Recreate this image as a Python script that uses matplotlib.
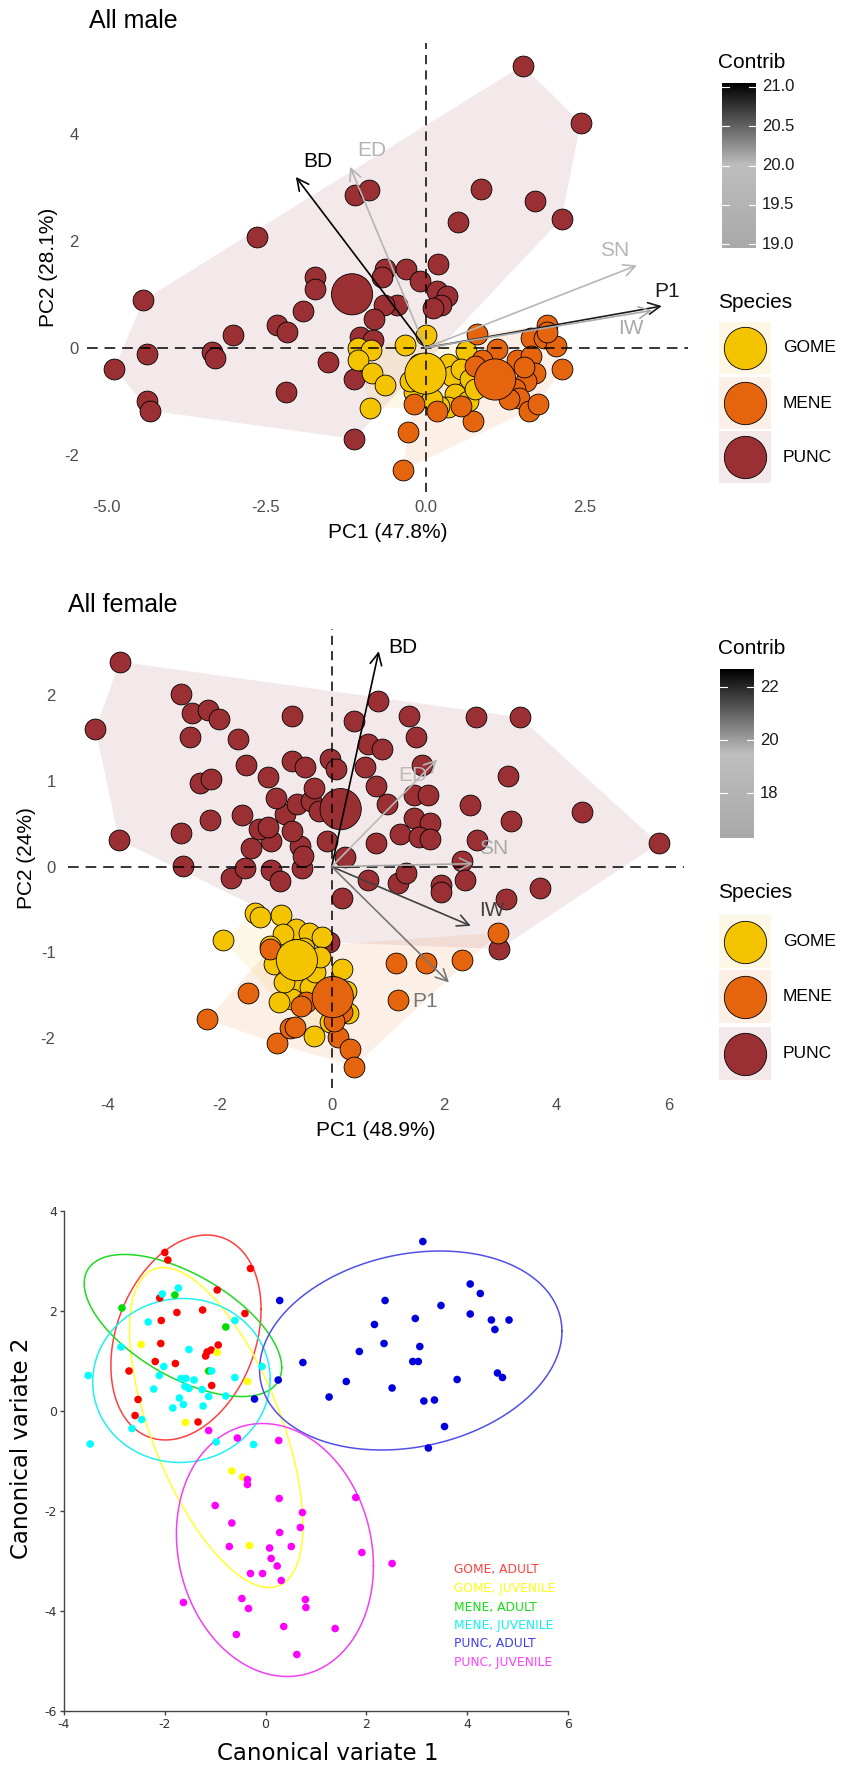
import numpy as np
import matplotlib
matplotlib.use("Agg")
import matplotlib.pyplot as plt
from matplotlib.colors import LinearSegmentedColormap, Normalize
from matplotlib.patches import Polygon, Rectangle

plt.rcParams['font.family'] = ['Liberation Sans', 'DejaVu Sans']

# ---------------- data ----------------
species = ["GOME", "MENE", "PUNC"]
species_colors = ["#F5C400", "#E5640E", "#9A3033"]

# All male PCA scores
male_punc_x = [1.52, 2.43, -2.64, -1.10, -0.88, 0.87, 1.71, 2.13, 0.51, -4.42, -1.73, -1.73, -0.64, -0.68, -0.30,
               0.20, -0.08, 0.18, 0.34, 0.24, 0.12, -0.44, -0.65, -1.92, -0.81, -2.32, -2.17, -3.02, -3.34, -3.29,
               -4.36, -4.87, -4.36, -4.32, -2.19, -1.52, -1.03, -0.82, -1.12, -1.12]
male_punc_y = [5.27, 4.20, 2.07, 2.85, 2.94, 2.96, 2.75, 2.41, 2.35, 0.89, 1.33, 1.09, 1.48, 1.32, 1.48,
               1.57, 1.24, 1.06, 0.97, 0.80, 0.74, 0.80, 0.80, 0.69, 0.53, 0.42, 0.30, 0.24, -0.08, -0.19,
               -0.11, -0.39, -0.99, -1.17, -0.83, -0.27, 0.20, 0.14, -0.58, -1.70]
male_gome_x = [0.00, -0.32, -1.05, -0.86, -1.05, -0.84, -0.63, -0.87, 0.63, 0.35, 0.42, 0.56, 0.70, 0.46, 0.67,
               0.35, 0.21, -0.07, -0.18, -0.25, 0.77, 0.10, -0.10]
male_gome_y = [0.24, 0.05, -0.01, -0.04, -0.22, -0.47, -0.69, -1.12, -0.05, -0.31, -0.52, -0.40, -0.59, -0.86, -0.99,
               -1.11, -1.08, -0.77, -0.83, -0.62, -0.77, -0.95, -0.30]
male_mene_x = [0.81, 1.12, 1.90, 1.65, 1.86, 2.04, 2.14, 1.44, 1.65, 1.72, 1.58, 1.40, 1.47, 1.30, 1.62, 1.76,
               0.74, 0.56, 0.18, -0.18, -0.28, -0.35, 0.88, 0.77, 1.90, 1.55]
male_mene_y = [0.25, -0.03, 0.43, 0.19, 0.19, 0.03, -0.40, -0.22, -0.15, -0.46, -0.62, -0.77, -0.93, -0.96, -1.17, -1.05,
               -1.36, -1.08, -1.17, -1.05, -1.57, -2.28, -0.22, -0.34, 0.30, -0.35]
male_centroid_x = [0.00, 1.09, -1.15]
male_centroid_y = [-0.48, -0.59, 1.00]
male_vars = ["BD", "ED", "SN", "P1", "IW"]
male_var_x = [-2.03, -1.18, 3.31, 3.70, 3.55]
male_var_y = [3.19, 3.38, 1.54, 0.78, 0.70]
male_contrib = [21.05, 19.5, 19.6, 20.9, 18.95]
male_ticks_x = [-5.0, -2.5, 0.0, 2.5]
male_ticklabels_x = ["-5.0", "-2.5", "0.0", "2.5"]
male_ticks_y = [-2, 0, 2, 4]
male_ticklabels_y = ["-2", "0", "2", "4"]
male_cb_ticks = [19.0, 19.5, 20.0, 20.5, 21.0]
male_cb_labels = ["19.0", "19.5", "20.0", "20.5", "21.0"]

# All female PCA scores
fem_punc_x = [-3.78, -4.21, -3.79, -2.68, -2.49, -2.20, -2.00, -2.53, -1.67, -0.70,
              -1.52, -2.34, -2.15, -2.17, -2.68, -2.65, -1.79, -1.55, -1.09, -0.92,
              -0.53, -0.56, -0.51, -1.43, -1.09, -1.30, -1.14, -0.83, -0.70, -0.61,
              -0.37, -0.22, -0.08, -1.14, -0.70, -0.48, -0.32, -0.03, 0.07, 0.60,
              0.79, 0.40, 0.82, 0.65, 0.89, 1.37, 1.51, 1.61, 1.46, 1.71,
              1.46, 1.75, 1.22, 1.56, 1.75, 0.98, 0.79, 0.65, 1.18, 1.32,
              1.95, 1.95, 2.33, 2.38, 2.46, 2.57, 3.36, 3.15, 3.20, 2.59,
              3.71, 3.10, 4.46, 5.83, 0.19, 0.24, 2.99, -1.00, -1.60, -0.05]
fem_punc_y = [2.39, 1.60, 0.31, 2.01, 1.79, 1.83, 1.72, 1.51, 1.49, 1.76,
              1.18, 0.98, 1.02, 0.54, 0.39, 0.01, -0.13, -0.01, -0.04, -0.17,
              -0.01, 0.24, 0.12, 0.22, 0.30, 0.44, 0.46, 0.61, 0.42, 0.73,
              0.77, 0.65, 0.30, 1.04, 1.23, 1.16, 0.92, 1.25, 1.14, 1.16,
              0.94, 1.70, 1.93, 1.43, 1.37, 1.76, 1.51, 1.19, 0.84, 0.84,
              0.57, 0.51, 0.38, 0.34, 0.32, 0.73, 0.28, -0.15, -0.19, -0.07,
              -0.21, -0.30, 0.07, -0.15, 0.72, 1.74, 1.74, 1.06, 0.53, 0.31,
              -0.25, -0.38, 0.64, 0.27, -0.36, 0.11, -0.96, 0.80, 0.60, -0.88]
fem_gome_x = [-1.93, -1.37, -1.27, -0.90, -0.64, -0.40, -0.18, -0.86, -1.10, -1.02, -0.78, -0.62,
              -0.38, -0.30, 0.18, 0.29, -0.03, -0.31, -0.70, -0.94, -0.50, -0.20, 0.25, -0.85]
fem_gome_y = [-0.85, -0.54, -0.59, -0.56, -0.73, -0.77, -0.82, -0.79, -0.92, -1.13, -1.27, -1.42,
              -1.40, -1.23, -1.19, -1.70, -1.81, -1.97, -1.54, -1.58, -0.95, -1.05, -1.45, -1.35]
fem_mene_x = [2.97, 1.14, 1.69, 2.32, 1.18, -1.50, -2.22, -0.98, -0.74, -0.66, 0.11, 0.32, 0.40,
              -1.10, -0.46, 0.18, -0.55, 0.05]
fem_mene_y = [-0.77, -1.12, -1.12, -1.09, -1.55, -1.47, -1.78, -2.06, -1.88, -1.87, -1.98, -2.13, -2.33,
              -0.96, -1.58, -1.69, -1.62, -1.80]
fem_centroid_x = [-0.62, 0.02, 0.16]
fem_centroid_y = [-1.09, -1.52, 0.67]
fem_vars = ["BD", "ED", "SN", "IW", "P1"]
fem_var_x = [0.84, 1.88, 2.52, 2.48, 2.09]
fem_var_y = [2.51, 1.25, 0.035, -0.69, -1.35]
fem_contrib = [22.7, 18.7, 16.3, 21.6, 20.7]
fem_ticks_x = [-4, -2, 0, 2, 4, 6]
fem_ticklabels_x = ["-4", "-2", "0", "2", "4", "6"]
fem_ticks_y = [-2, -1, 0, 1, 2]
fem_ticklabels_y = ["-2", "-1", "0", "1", "2"]
fem_cb_ticks = [18, 20, 22]
fem_cb_labels = ["18", "20", "22"]

# Canonical variate analysis
cva_groups = ["GOME, ADULT", "GOME, JUVENILE", "MENE, ADULT", "MENE, JUVENILE", "PUNC, ADULT", "PUNC, JUVENILE"]
cva_point_colors = ["#FF0000", "#FFFF00", "#00DD00", "#00FFFF", "#0000DD", "#FF00FF"]
cva_line_colors = ["#FF4040", "#FFFF30", "#20D820", "#20F0F0", "#5050E8", "#F040F0"]
cva_text_colors = ["#FF4040", "#FFFF10", "#10E010", "#10F0F0", "#4040E8", "#FF40FF"]
gome_adult_x = [-2.00, -1.94, -0.30, -0.96, -2.10, -1.25, -1.76, -0.41, -2.07, -2.08, -0.94, -1.08, -1.16, -1.19,
                -2.19, -1.79, -2.71, -1.07, -2.53, -2.59, -1.34]
gome_adult_y = [3.17, 3.02, 2.85, 2.42, 2.26, 2.02, 1.97, 1.95, 1.81, 1.35, 1.32, 1.22, 1.18, 1.10,
                0.99, 0.95, 0.80, 0.51, 0.23, -0.09, -0.22]
gome_juv_x = [-2.47, -0.96, -0.36, -1.59, -0.67, -0.46, -0.32]
gome_juv_y = [1.33, 1.17, 0.59, -0.23, -1.20, -1.32, -2.69]
mene_adult_x = [-2.85, -1.80, -0.79, -1.13]
mene_adult_y = [2.06, 2.32, 1.68, 0.80]
mene_juv_x = [-1.73, -2.05, -2.33, -0.61, -2.87, -1.52, -2.02, -0.07, -1.07, -3.52, -2.11, -0.61, -1.68, -1.58, -1.42,
              -1.60, -1.52, -1.26, -2.22, -1.13, -0.79, -1.71, -1.63, -1.84, -1.24, -2.46, -2.65, -3.48, -0.98, -0.24]
mene_juv_y = [2.46, 2.34, 1.78, 1.81, 1.28, 1.23, 0.89, 0.89, 0.80, 0.71, 0.71, 0.67, 0.65, 0.65, 0.62,
              0.49, 0.45, 0.43, 0.44, 0.29, 0.30, 0.26, 0.13, 0.06, 0.10, -0.17, -0.35, -0.66, -0.62, -0.67]
punc_adult_x = [3.12, 4.06, 4.26, 0.28, 2.37, 3.48, 4.06, 2.97, 4.48, 4.83, 2.16, 4.55, 2.35, 3.06, 1.86,
                0.74, 2.92, 3.03, 0.25, 1.60, 3.80, 4.60, 4.70, 2.51, 1.26, -0.22, 3.14, 3.35, 3.55, 3.23]
punc_adult_y = [3.39, 2.54, 2.35, 2.21, 2.21, 2.11, 1.94, 1.85, 1.82, 1.82, 1.73, 1.63, 1.35, 1.29, 1.19,
                0.97, 0.99, 0.99, 0.62, 0.59, 0.63, 0.76, 0.67, 0.46, 0.28, 0.24, 0.20, 0.22, -0.31, -0.74]
punc_juv_x = [-1.13, -0.56, 0.26, -0.36, -0.36, 0.27, -1.00, 1.79, 0.73, -0.67, 0.69, 0.28, -0.72, 0.08, 0.51, 1.91,
              0.11, 2.51, 0.23, -0.30, -0.06, 0.31, -1.63, -0.47, 0.79, -0.34, 0.80, 0.36, 1.38, -0.58, 0.62]
punc_juv_y = [-0.39, -0.54, -0.59, -1.37, -1.47, -1.75, -1.89, -1.73, -2.03, -2.24, -2.33, -2.43, -2.71, -2.74, -2.71,
              -2.83, -2.95, -3.05, -3.10, -3.25, -3.25, -3.39, -3.83, -3.75, -3.77, -3.95, -3.93, -4.31, -4.35, -4.47, -4.87]
# ellipse centre and covariance-like shape (sxx, syy, sxy)
ell_cx = [-1.58, -0.98, -1.64, -1.67, 2.88, 0.185]
ell_cy = [1.47, -0.33, 1.71, 0.61, 1.21, -2.78]
ell_sxx = [2.22, 2.96, 3.84, 3.10, 9.00, 3.82]
ell_syy = [4.20, 10.24, 2.02, 2.69, 3.96, 6.40]
ell_sxy = [0.84, -3.36, -1.65, 0.05, 1.15, -0.62]
cva_ticks_x = [-4, -2, 0, 2, 4, 6]
cva_ticks_y = [-6, -4, -2, 0, 2, 4]

# ---------------- figure ----------------
W, H = 843, 1775
fig = plt.figure(figsize=(W / 100, H / 100), dpi=100)


def rect_px(x0, y0, x1, y1):
    return [x0 / W, 1 - y1 / H, (x1 - x0) / W, (y1 - y0) / H]


def convex_hull(xs, ys):
    pts = sorted(set(zip(xs, ys)))
    if len(pts) < 3:
        return pts

    def cross(o, a, b):
        return (a[0] - o[0]) * (b[1] - o[1]) - (a[1] - o[1]) * (b[0] - o[0])
    lower, upper = [], []
    for p in pts:
        while len(lower) >= 2 and cross(lower[-2], lower[-1], p) <= 0:
            lower.pop()
        lower.append(p)
    for p in reversed(pts):
        while len(upper) >= 2 and cross(upper[-2], upper[-1], p) <= 0:
            upper.pop()
        upper.append(p)
    return lower[:-1] + upper[:-1]


contrib_cmap = LinearSegmentedColormap.from_list("contrib", ["#A9A9A9", "#BEBEBE", "#000000"])
TICK_GREY = "#4D4D4D"


def pca_panel(rect, xlim, ylim, groups, cx, cy, vars_, vx, vy, contrib, lab_off,
              xt, xtl, yt, ytl, xpad, ypad):
    ax = fig.add_axes(rect)
    ax.set_xlim(*xlim)
    ax.set_ylim(*ylim)
    ax.patch.set_alpha(0)
    for sp in ax.spines.values():
        sp.set_visible(False)
    for (gx, gy), col in zip(groups, species_colors):
        hull = convex_hull(gx, gy)
        ax.add_patch(Polygon(hull, closed=True, facecolor=col, alpha=0.1, edgecolor="none", zorder=1))
    for i in [2, 0, 1]:
        gx, gy = groups[i]
        ax.scatter(gx, gy, s=225, c=species_colors[i], edgecolors="black", linewidths=0.6, zorder=3)
    ax.scatter(cx, cy, s=880, c=species_colors, edgecolors="black", linewidths=0.6, zorder=4)
    ax.axhline(0, color="black", lw=1.1, ls=(0, (7, 4.5)), zorder=5)
    ax.axvline(0, color="black", lw=1.1, ls=(0, (6, 4)), zorder=5)
    norm = Normalize(min(contrib), max(contrib))
    for name, x, y, c, (dx, dy) in zip(vars_, vx, vy, contrib, lab_off):
        col = contrib_cmap(norm(c))
        ax.annotate("", xy=(x, y), xytext=(0, 0),
                    arrowprops=dict(arrowstyle="->,head_length=0.6,head_width=0.3", color=col, lw=1.2,
                                    shrinkA=0, shrinkB=0, mutation_scale=14), zorder=6)
        ax.text(x + dx, y + dy, name, color=col, fontsize=15, ha="center", va="center", zorder=7)
    ax.set_xticks(xt)
    ax.set_xticklabels(xtl)
    ax.set_yticks(yt)
    ax.set_yticklabels(ytl)
    ax.tick_params(axis="x", length=0, pad=xpad, labelsize=12, labelcolor=TICK_GREY)
    ax.tick_params(axis="y", length=0, pad=ypad, labelsize=12, labelcolor=TICK_GREY)
    return ax, norm


# ---- panel 1: All male
male_groups = [(male_gome_x, male_gome_y), (male_mene_x, male_mene_y), (male_punc_x, male_punc_y)]
male_off = [(0.34, 0.28), (0.34, 0.30), (-0.35, 0.27), (0.08, 0.28), (-0.34, -0.34)]
ax1, norm1 = pca_panel(rect_px(87, 43, 688, 492), (-5.30, 4.11), (-2.69, 5.69), male_groups,
                       male_centroid_x, male_centroid_y, male_vars, male_var_x, male_var_y, male_contrib,
                       male_off, male_ticks_x, male_ticklabels_x, male_ticks_y, male_ticklabels_y, 6, 6)
fig.text(89 / W, 1 - 21 / H, "All male", fontsize=18, ha="left", va="center")
fig.text(388 / W, 1 - 532 / H, "PC1 (47.8%)", fontsize=15, ha="center", va="center")
fig.text(48 / W, 1 - 267 / H, "PC2 (28.1%)", fontsize=15, ha="center", va="center", rotation=90)

# ---- panel 2: All female
fem_groups = [(fem_gome_x, fem_gome_y), (fem_mene_x, fem_mene_y), (fem_punc_x, fem_punc_y)]
fem_off = [(0.43, 0.05), (-0.44, -0.19), (0.36, 0.18), (0.38, 0.18), (-0.42, -0.22)]
ax2, norm2 = pca_panel(rect_px(68, 629, 684, 1088), (-4.70, 6.28), (-2.58, 2.77), fem_groups,
                       fem_centroid_x, fem_centroid_y, fem_vars, fem_var_x, fem_var_y, fem_contrib,
                       fem_off, fem_ticks_x, fem_ticklabels_x, fem_ticks_y, fem_ticklabels_y, 7, 9)
fig.text(68 / W, 1 - 605 / H, "All female", fontsize=18, ha="left", va="center")
fig.text(376 / W, 1 - 1130 / H, "PC1 (48.9%)", fontsize=15, ha="center", va="center")
fig.text(27 / W, 1 - 858 / H, "PC2 (24%)", fontsize=15, ha="center", va="center", rotation=90)

# ---- legends (pixel overlay)
ov = fig.add_axes([0, 0, 1, 1], zorder=10)
ov.patch.set_alpha(0)
ov.axis("off")


def legend_block(title_y, cb_box, norm, cb_ticks, cb_labels, sp_title_y, key_tops, key_h):
    x0, y0, x1, y1 = cb_box
    ov.text(718, title_y, "Contrib", fontsize=15, ha="left", va="center")
    grad = np.linspace(0, 1, 256).reshape(-1, 1)
    ov.imshow(grad, cmap=contrib_cmap, origin="lower", extent=(x0, x1, y1, y0), aspect="auto",
              interpolation="bilinear")
    for v, lab in zip(cb_ticks, cb_labels):
        py = y1 - norm(v) * (y1 - y0)
        ov.plot([x0, x0 + 7], [py, py], color="white", lw=0.8)
        ov.plot([x1 - 7, x1], [py, py], color="white", lw=0.8)
        ov.text(x1 + 6, py, lab, fontsize=12, ha="left", va="center", color="#1A1A1A")
    ov.text(718, sp_title_y, "Species", fontsize=15, ha="left", va="center")
    for name, col, top in zip(species, species_colors, key_tops):
        ov.add_patch(Rectangle((719, top), 52, key_h, facecolor=col, alpha=0.1, edgecolor="none"))
        ov.scatter([745], [top + key_h / 2], s=930, c=col, edgecolors="black", linewidths=0.6, zorder=3)
        ov.text(783, top + key_h / 2, name, fontsize=12.5, ha="left", va="center")


legend_block(63, (722, 83, 756, 248), norm1, male_cb_ticks, male_cb_labels, 302, [322, 377, 431], 52)
legend_block(648, (720, 669, 754, 838), norm2, fem_cb_ticks, fem_cb_labels, 893, [915, 970, 1027], 53)
ov.set_xlim(0, W)
ov.set_ylim(H, 0)

# ---- panel 3: CVA
ax3 = fig.add_axes(rect_px(64, 1211, 568, 1711))
ax3.set_xlim(-4, 6)
ax3.set_ylim(-6, 4)
for s in ["top", "right"]:
    ax3.spines[s].set_visible(False)
for s in ["left", "bottom"]:
    ax3.spines[s].set_color("#444444")
    ax3.spines[s].set_linewidth(1.0)
cva_x = [gome_adult_x, gome_juv_x, mene_adult_x, mene_juv_x, punc_adult_x, punc_juv_x]
cva_y = [gome_adult_y, gome_juv_y, mene_adult_y, mene_juv_y, punc_adult_y, punc_juv_y]
t = np.linspace(0, 2 * np.pi, 300)
for i in range(6):
    S = np.array([[ell_sxx[i], ell_sxy[i]], [ell_sxy[i], ell_syy[i]]])
    L = np.linalg.cholesky(S)
    pts = L @ np.vstack([np.cos(t), np.sin(t)])
    ax3.plot(ell_cx[i] + pts[0], ell_cy[i] + pts[1], color=cva_line_colors[i], lw=1.1, zorder=2)
for i in range(6):
    ax3.scatter(cva_x[i], cva_y[i], s=30, c=cva_point_colors[i], edgecolors="none", zorder=3)
narrow = ["Liberation Sans Narrow", "DejaVu Sans"]
for i, g in enumerate(cva_groups):
    ax3.text(3.73, -3.18 - 0.37 * i, g, color=cva_text_colors[i], fontsize=8.8, family=["DejaVu Sans"],
             ha="left", va="center")
ax3.set_xticks(cva_ticks_x)
ax3.set_xticklabels([str(v) for v in cva_ticks_x], family=narrow)
ax3.set_yticks(cva_ticks_y)
ax3.set_yticklabels([str(v) for v in cva_ticks_y], family=narrow)
ax3.tick_params(length=3, width=1, color="#444444", labelsize=9, labelcolor="#333333", pad=2)
fig.text(328 / W, 1 - 1753 / H, "Canonical variate 1", fontsize=16.5, family=["DejaVu Sans"],
         ha="center", va="center")
fig.text(22 / W, 1 - 1448 / H, "Canonical variate 2", fontsize=16.5, family=["DejaVu Sans"],
         ha="center", va="center", rotation=90)

fig.savefig("out.png", dpi=100)
